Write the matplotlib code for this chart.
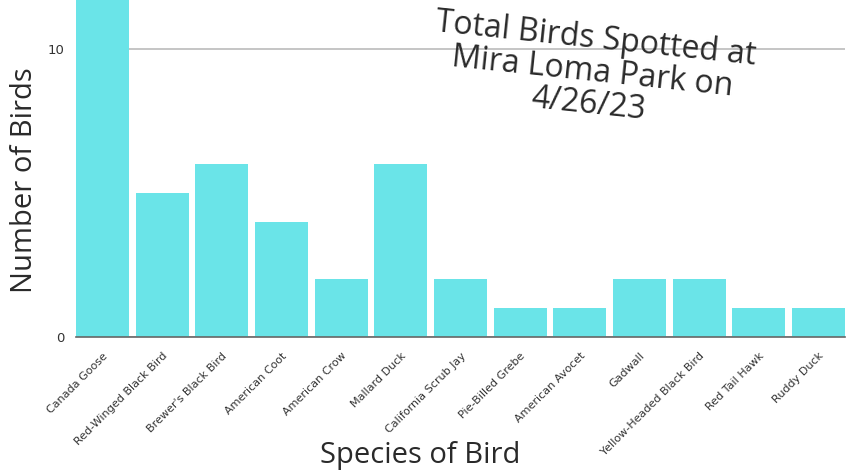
import matplotlib
matplotlib.use("Agg")
import matplotlib.pyplot as plt

species = ["Canada Goose", "Red-Winged Black Bird", "Brewer's Black Bird", "American Coot",
           "American Crow", "Mallard Duck", "California Scrub Jay", "Pie-Billed Grebe",
           "American Avocet", "Gadwall", "Yellow-Headed Black Bird", "Red Tail Hawk", "Ruddy Duck"]
counts = [12, 5, 6, 4, 2, 6, 2, 1, 1, 2, 2, 1, 1]
yticks = [0, 10]

fig = plt.figure(figsize=(8.54, 4.70), dpi=100)
ax = fig.add_axes([76/854, 1 - 337/470, (845-76)/854, 337/470])

x = list(range(len(species)))
ax.bar(x, counts, width=0.89, color="#6ae4e8", zorder=2)
ax.set_xlim(-0.445, len(species) - 1 + 0.445)
ax.set_ylim(0, 11.7)
ax.set_yticks(yticks)
ax.set_yticklabels([str(v) for v in yticks], fontsize=9.5, color="#333333")
ax.yaxis.grid(True, color="#bbbbbb", linewidth=1.2, zorder=1)
ax.set_xticks(x)
ax.set_xticklabels(species, rotation=45, ha="right", rotation_mode="anchor",
                   fontsize=8, color="#333333")
ax.tick_params(axis="both", length=0, pad=8)
ax.tick_params(axis="x", pad=10)
for s in ["top", "right", "left"]:
    ax.spines[s].set_visible(False)
ax.spines["bottom"].set_color("#666666")
ax.spines["bottom"].set_linewidth(1.2)

fig.text(25/854, 1 - 180/470, "Number of Birds", rotation=90, fontsize=21,
         ha="center", va="center", color="#2a2a2a", family="Open Sans")
fig.text(420/854, 1 - 456/470, "Species of Bird", fontsize=21,
         ha="center", va="center", color="#2a2a2a", family="Open Sans")
fig.text(592/854, 1 - 72/470, "Total Birds Spotted at\nMira Loma Park on\n4/26/23",
         rotation=-6, fontsize=23, ha="center", va="center", linespacing=0.98,
         color="#2a2a2a", family="Open Sans", multialignment="center",
         rotation_mode="anchor")

fig.savefig("out.png", dpi=100)
